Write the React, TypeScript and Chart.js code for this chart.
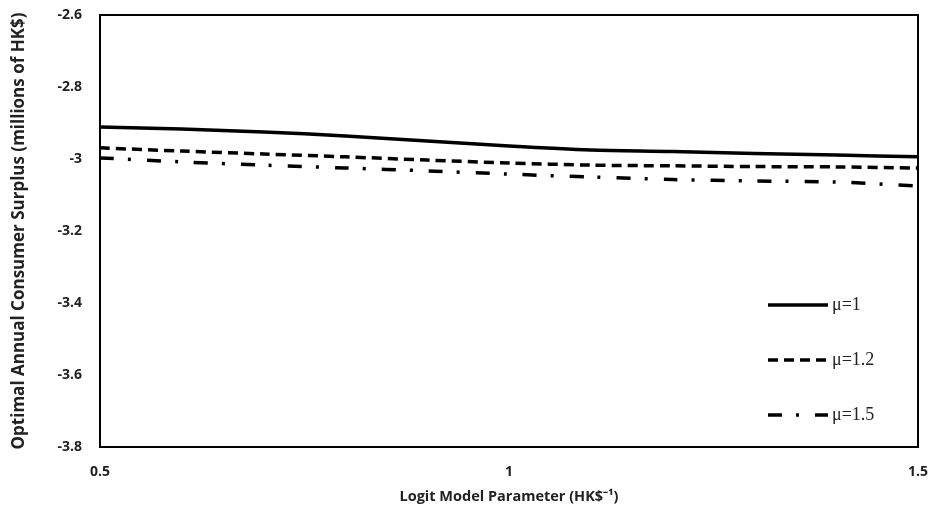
import React, { useEffect, useRef } from "react";
import { Chart, registerables } from "chart.js";

Chart.register(...registerables);

const xValues = [0.5, 0.6, 0.7, 0.8, 0.9, 1.0, 1.1, 1.2, 1.3, 1.4, 1.5];
const mu1 = [-2.911, -2.917, -2.925, -2.936, -2.95, -2.964, -2.975, -2.979, -2.985, -2.989, -2.994];
const mu12 = [-2.969, -2.978, -2.986, -2.994, -3.003, -3.011, -3.017, -3.019, -3.021, -3.022, -3.025];
const mu15 = [-2.997, -3.008, -3.017, -3.025, -3.033, -3.042, -3.05, -3.057, -3.061, -3.064, -3.075];
const seriesLabels = ["μ=1", "μ=1.2", "μ=1.5"];
const yTitle = "Optimal Annual Consumer Surplus (millions of HK$)";
const xTitle = "Logit Model Parameter (HK$\u207B\u00B9)";

const frameAndLegend = {
  id: "frameAndLegend",
  afterDraw(chart: any) {
    const { ctx, chartArea } = chart;
    ctx.save();
    ctx.strokeStyle = "#000";
    ctx.lineWidth = 2;
    ctx.strokeRect(chartArea.left, chartArea.top, chartArea.right - chartArea.left, chartArea.bottom - chartArea.top);
    // legend
    const x0 = chartArea.left + 668;
    const len = 60;
    chart.data.datasets.forEach((ds: any, i: number) => {
      const y = chartArea.top + 290 + i * 55;
      ctx.beginPath();
      ctx.setLineDash(ds.borderDash || []);
      ctx.lineWidth = ds.borderWidth;
      ctx.strokeStyle = ds.borderColor;
      ctx.moveTo(x0, y);
      ctx.lineTo(x0 + len, y);
      ctx.stroke();
      ctx.setLineDash([]);
      ctx.fillStyle = "#222";
      ctx.font = "18px 'Liberation Serif', serif";
      ctx.textBaseline = "middle";
      ctx.textAlign = "left";
      ctx.fillText(ds.label, x0 + len + 4, y);
    });
    ctx.restore();
  },
};

export default function App() {
  const ref = useRef<HTMLCanvasElement | null>(null);
  useEffect(() => {
    document.body.style.margin = "0";
    const tickFont = { family: "'Open Sans', sans-serif", size: 14, weight: "bold" as const };
    const chart = new Chart(ref.current!, {
      type: "line",
      data: {
        datasets: [
          {
            label: seriesLabels[0],
            data: xValues.map((x, i) => ({ x, y: mu1[i] })),
            borderColor: "#000",
            borderWidth: 3.5,
            pointRadius: 0,
            tension: 0.3,
          },
          {
            label: seriesLabels[1],
            data: xValues.map((x, i) => ({ x, y: mu12[i] })),
            borderColor: "#000",
            borderWidth: 3.5,
            borderDash: [10, 6],
            pointRadius: 0,
            tension: 0.3,
          },
          {
            label: seriesLabels[2],
            data: xValues.map((x, i) => ({ x, y: mu15[i] })),
            borderColor: "#000",
            borderWidth: 3.5,
            borderDash: [14, 14, 3, 16],
            pointRadius: 0,
            tension: 0.3,
          },
        ],
      },
      options: {
        animation: false,
        responsive: false,
        maintainAspectRatio: false,
        layout: { padding: { top: 15, right: 15, left: 0, bottom: 0 } },
        plugins: { legend: { display: false }, tooltip: { enabled: false } },
        scales: {
          x: {
            type: "linear",
            min: 0.5,
            max: 1.5,
            grid: { display: false, drawTicks: false },
            border: { display: true, color: "#000", width: 2 },
            ticks: {
              stepSize: 0.5,
              padding: 17,
              color: "#222",
              font: tickFont,
              callback: (v: any) => String(Number(Number(v).toFixed(1))),
            },
            title: {
              display: true,
              text: xTitle,
              color: "#222",
              font: { family: "'Open Sans', sans-serif", size: 14.5, weight: "bold" },
              padding: { top: 10, bottom: 10 },
            },
            afterFit: (s: any) => {
              s.height = 69;
              s.paddingLeft = 0;
              s.paddingRight = 0;
            },
          },
          y: {
            min: -3.8,
            max: -2.6,
            grid: { display: false, drawTicks: false },
            border: { display: true, color: "#000", width: 2 },
            ticks: {
              stepSize: 0.2,
              padding: 18,
              color: "#222",
              font: tickFont,
              callback: (v: any) => String(Number(Number(v).toFixed(1))),
            },
            title: {
              display: true,
              text: yTitle,
              color: "#222",
              font: { family: "'Open Sans', sans-serif", size: 17, weight: "bold" },
              padding: { top: 9, bottom: 9 },
            },
            afterFit: (s: any) => {
              s.width = 100;
              s.paddingTop = 0;
              s.paddingBottom = 0;
            },
          },
        },
      },
      plugins: [frameAndLegend],
    });
    return () => chart.destroy();
  }, []);
  return (
    <div style={{ position: "relative", width: 933, height: 516, background: "#fff" }}>
      <canvas ref={ref} width={933} height={516} style={{ display: "block" }} />
    </div>
  );
}
